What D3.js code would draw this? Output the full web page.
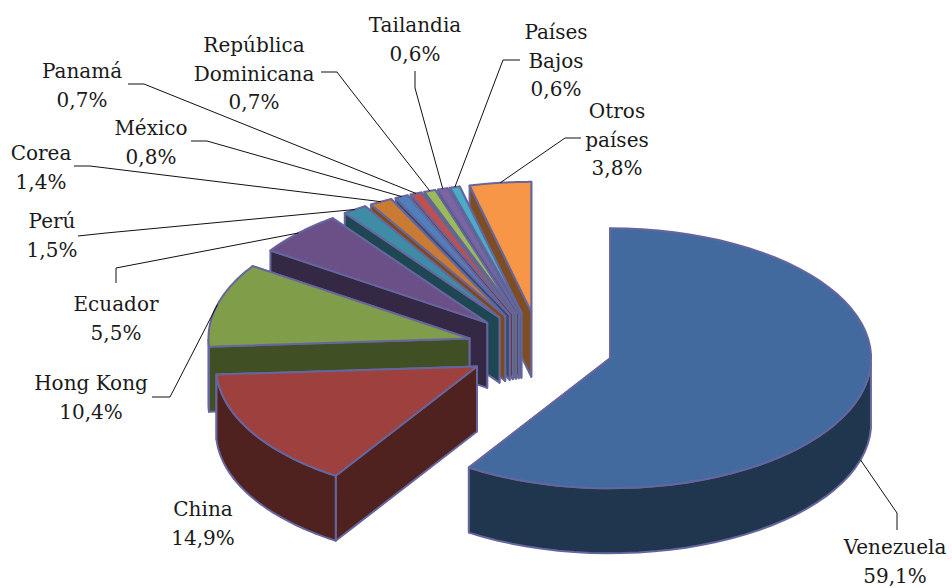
<!DOCTYPE html>
<html><head><meta charset="utf-8">
<script src="https://cdn.jsdelivr.net/npm/d3@7/dist/d3.min.js"></script>
<style>html,body{margin:0;padding:0;background:#fff}svg{display:block}
text{font-family:"DejaVu Serif",serif;font-size:20px;fill:#1a1a1a}</style>
</head><body><script>
const categories=["Venezuela","China","Hong Kong","Ecuador","Perú","Corea","México","Panamá","República Dominicana","Tailandia","Países Bajos","Otros países"];
const values=[59.1,14.9,10.4,5.5,1.5,1.4,0.8,0.7,0.7,0.6,0.6,3.8];
const valueLabels=["59,1%","14,9%","10,4%","5,5%","1,5%","1,4%","0,8%","0,7%","0,7%","0,6%","0,6%","3,8%"];
const topColors=["#426A9E","#9E403E","#809D4A","#6A5087","#3E8CA6","#C97B34","#4F80BC","#BF504D","#9BBB59","#7F64A1","#4BACC6","#F79646"];
const sideColors=["#20364F","#4F211F","#414F25","#352844","#1F4653","#7F4A17","#2F4D72","#72302E","#5D7035","#4C3C61","#2D6777","#7F4D24"];
const labelLines=[["Venezuela"],["China"],["Hong Kong"],["Ecuador"],["Perú"],["Corea"],["México"],["Panamá"],["República","Dominicana"],["Tailandia"],["Países","Bajos"],["Otros","países"]];
const labelCx=[895,203,91,116,52,41,151,82,254,415,556,617];
const labelBase=[554,516,390,311,228,160,135,78,52,32,39,118];
const linePitch=28.7;
const leaderElbows=[[[897,530],[897,513]],null,[[152,397],[170,397]],[[116,283],[116,268]],[[78,236],[106,233]],[[74,166],[90,166]],[[191,141],[207,141]],[[128,84],[144,84]],[[321,72],[337,72],[350,89]],[[415,71],[415,88]],[[520,60],[503,60]],[[581,138],[565,138]]];

const W=952,H=588,cx=540,cy=348,rx=261,ry=130,explode=0.28,depth=65;
const sx=d3.scaleLinear().domain([-1,1]).range([cx-rx,cx+rx]);
const sy=d3.scaleLinear().domain([-1,1]).range([cy-ry,cy+ry]);
const svg=d3.select("body").append("svg").attr("width",W).attr("height",H);
const arcs=d3.pie().sort(null).value(v=>v)(values);
const pt=(a,r,off,dz)=>[sx(Math.sin(off)*explode+Math.sin(a)*r),sy(-Math.cos(off)*explode-Math.cos(a)*r)+dz];
const line=d3.line();
const slices=arcs.map((d,i)=>{
  const mid=(d.startAngle+d.endAngle)/2;
  const rim=d3.range(0,61).map(k=>d.startAngle+(d.endAngle-d.startAngle)*k/60);
  return {i,mid,rim,d};
});
const stroke="#66669f",sw=2;
const order=[11,10,9,8,7,6,5,4,3,2,1,0];
order.forEach(i=>{
  const s=slices[i],g=svg.append("g");
  const apex=pt(0,0,s.mid,0),apexB=pt(0,0,s.mid,depth);
  const rimT=s.rim.map(a=>pt(a,1,s.mid,0));
  const first=rimT[0],last=rimT[rimT.length-1];
  const firstB=pt(s.d.startAngle,1,s.mid,depth),lastB=pt(s.d.endAngle,1,s.mid,depth);
  const drawWall=p=>g.append("path").attr("d",line(p)+"Z").attr("fill",sideColors[i]).attr("stroke",stroke).attr("stroke-width",sw).attr("stroke-linejoin","round");
  drawWall([apex,last,lastB,apexB]);
  drawWall([apex,first,firstB,apexB]);
  const front=s.rim.filter(a=>a>=Math.PI/2&&a<=3*Math.PI/2);
  if(front.length>1){
    drawWall([...front.map(a=>pt(a,1,s.mid,0)),...front.slice().reverse().map(a=>pt(a,1,s.mid,depth))]);
  }
  g.append("path").attr("d",line([apex,...rimT])+"Z").attr("fill",topColors[i]).attr("stroke",stroke).attr("stroke-width",sw).attr("stroke-linejoin","round");
});
categories.forEach((c,i)=>{
  const s=slices[i];
  if(leaderElbows[i]){
    const end=pt(s.mid,1,s.mid,i===0?depth:0);
    svg.append("path").attr("d",line([...leaderElbows[i],end])).attr("fill","none").attr("stroke","#111").attr("stroke-width",1);
  }
  const t=svg.append("text").attr("text-anchor","middle");
  [...labelLines[i],valueLabels[i]].forEach((l,k)=>{
    t.append("tspan").attr("x",labelCx[i]).attr("y",labelBase[i]+k*linePitch).text(l);
  });
});
</script></body></html>
